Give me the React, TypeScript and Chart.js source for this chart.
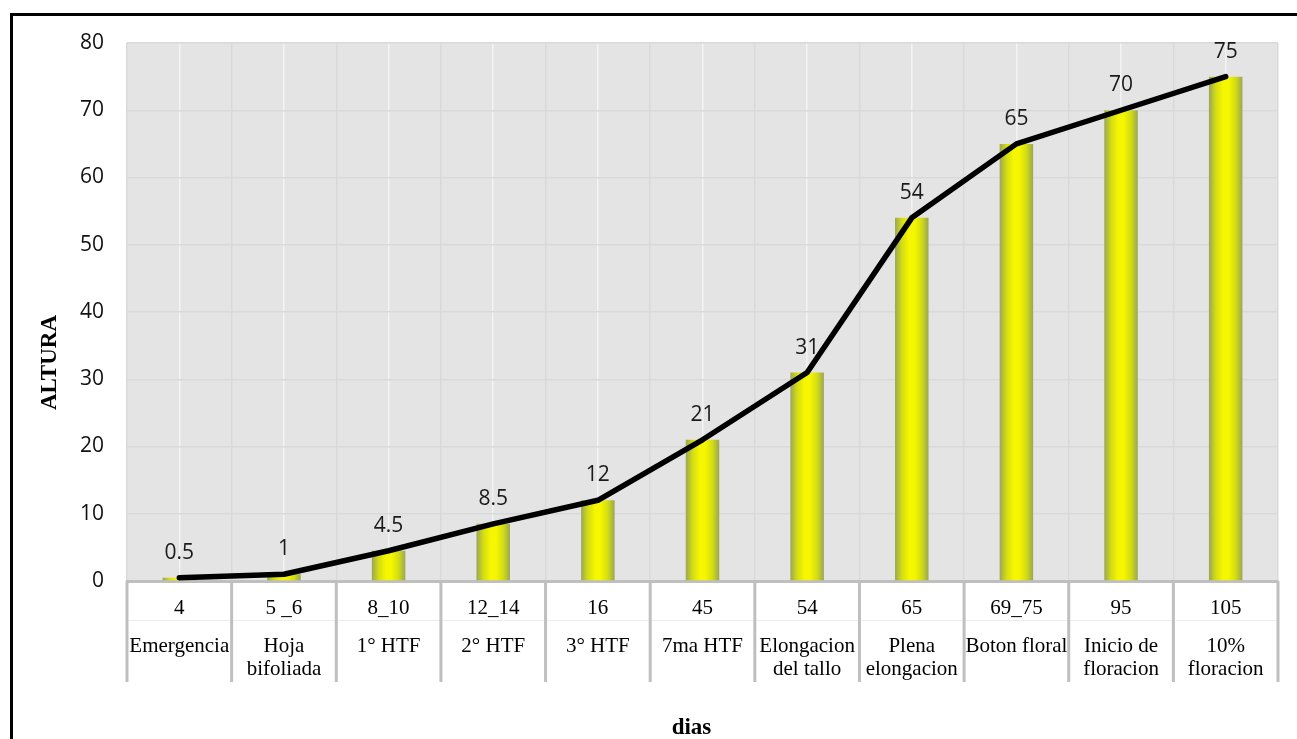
import React, { useEffect, useRef } from 'react';
import { Chart, registerables } from 'chart.js';

Chart.register(...registerables);

// ---- data ----
const dayLabels: string[] = ['4', '5 _6', '8_10', '12_14', '16', '45', '54', '65', '69_75', '95', '105'];
const stageLabels: string[][] = [
  ['Emergencia'],
  ['Hoja', 'bifoliada'],
  ['1° HTF'],
  ['2° HTF'],
  ['3° HTF'],
  ['7ma HTF'],
  ['Elongacion', 'del tallo'],
  ['Plena', 'elongacion'],
  ['Boton floral'],
  ['Inicio de', 'floracion'],
  ['10%', 'floracion'],
];
const alturaValues: number[] = [0.5, 1, 4.5, 8.5, 12, 21, 31, 54, 65, 70, 75];
const yMin = 0;
const yMax = 80;
const yStep = 10;
const yTitle = 'ALTURA';
const xTitle = 'dias';

const W = 1297;
const H = 739;
const BAR_PCT = 0.32;
const SERIF = '"Liberation Serif", "Times New Roman", serif';
const SANS = '"Open Sans", "Noto Sans", sans-serif';
const TABLE_BOTTOM = 682;

const decorPlugin = {
  id: 'decor',
  beforeDraw(chart: any) {
    const { ctx, chartArea: a } = chart;
    ctx.save();
    ctx.fillStyle = '#e4e4e4';
    ctx.fillRect(a.left, a.top, a.right - a.left, a.bottom - a.top);
    ctx.restore();
  },
  afterDatasetsDraw(chart: any) {
    const { ctx } = chart;
    const meta = chart.getDatasetMeta(0);
    const ds = chart.data.datasets[0];
    ctx.save();
    ctx.font = `21px ${SANS}`;
    ctx.fillStyle = '#1a1a1a';
    ctx.textAlign = 'center';
    ctx.textBaseline = 'middle';
    meta.data.forEach((pt: any, i: number) => {
      ctx.fillText(String(ds.data[i]), pt.x, pt.y - 25);
    });
    ctx.restore();
  },
  afterDraw(chart: any) {
    const { ctx, chartArea: a } = chart;
    const xs = chart.scales.x;
    const n = dayLabels.length;
    const step = xs.width / n;
    ctx.save();
    // faint row divider
    ctx.strokeStyle = '#ececec';
    ctx.lineWidth = 1;
    ctx.beginPath();
    ctx.moveTo(xs.left, Math.round(xs.bottom) + 0.5);
    ctx.lineTo(xs.right, Math.round(xs.bottom) + 0.5);
    ctx.stroke();
    // table separators
    ctx.strokeStyle = '#bfbfbf';
    ctx.lineWidth = 3;
    for (let i = 0; i <= n; i++) {
      const px = xs.getPixelForValue(0) - step / 2 + i * step;
      ctx.beginPath();
      ctx.moveTo(px, xs.top);
      ctx.lineTo(px, TABLE_BOTTOM);
      ctx.stroke();
    }
    // axis titles
    ctx.fillStyle = '#000';
    ctx.font = `bold 23px ${SERIF}`;
    ctx.textAlign = 'center';
    ctx.textBaseline = 'middle';
    ctx.fillText(xTitle, (a.left + a.right) / 2 - 11, 728);
    ctx.translate(50, (a.top + TABLE_BOTTOM) / 2);
    ctx.rotate(-Math.PI / 2);
    ctx.fillText(yTitle, 0, 0);
    ctx.restore();
  },
};

function barGradient(ctx: any) {
  const chart = ctx.chart;
  const xs = chart.scales && chart.scales.x;
  if (!xs || !chart.chartArea || ctx.dataIndex === undefined) return '#f0f000';
  const cx = xs.getPixelForValue(ctx.dataIndex);
  const w = (xs.width / dayLabels.length) * BAR_PCT;
  const g = chart.ctx.createLinearGradient(cx - w / 2, 0, cx + w / 2, 0);
  g.addColorStop(0, '#9aa656');
  g.addColorStop(0.2, '#d2dc14');
  g.addColorStop(0.42, '#f6f600');
  g.addColorStop(0.58, '#f6f600');
  g.addColorStop(0.8, '#d2dc14');
  g.addColorStop(1, '#9aa656');
  return g;
}

export default function App() {
  const canvasRef = useRef<HTMLCanvasElement | null>(null);

  useEffect(() => {
    const canvas = canvasRef.current;
    if (!canvas) return;
    const chart = new Chart(canvas, {
      type: 'bar',
      data: {
        labels: dayLabels,
        datasets: [
          {
            type: 'line',
            data: alturaValues,
            borderColor: '#000',
            borderWidth: 5.5,
            tension: 0,
            pointRadius: 0,
            borderCapStyle: 'round',
            borderJoinStyle: 'round',
            xAxisID: 'x',
            yAxisID: 'y',
            order: 0,
          } as any,
          {
            type: 'bar',
            data: alturaValues,
            backgroundColor: barGradient,
            borderWidth: 0,
            barPercentage: BAR_PCT,
            categoryPercentage: 1,
            xAxisID: 'x',
            yAxisID: 'y',
            order: 1,
          } as any,
        ],
      },
      options: {
        responsive: false,
        animation: false,
        devicePixelRatio: 1,
        layout: { padding: { top: 43, right: 19, bottom: 0, left: 0 } },
        plugins: { legend: { display: false }, tooltip: { enabled: false }, title: { display: false } },
        scales: {
          x: {
            type: 'category',
            position: 'bottom',
            weight: 0,
            offset: true,
            grid: { offset: true, color: '#d9d9d9', lineWidth: 1.5, drawTicks: false, drawOnChartArea: true },
            border: { display: true, color: '#bfbfbf', width: 3 },
            ticks: {
              font: { family: SERIF, size: 21, lineHeight: 1.1 },
              color: '#000',
              padding: 15.5,
              maxRotation: 0,
              autoSkip: false,
            },
            afterFit: (s: any) => {
              s.height = 39;
            },
          },
          x2: {
            type: 'category',
            position: 'bottom',
            weight: 1,
            labels: stageLabels as any,
            offset: true,
            grid: { offset: false, color: '#f3f3f3', lineWidth: 1.5, drawTicks: false, drawOnChartArea: true },
            border: { display: false },
            ticks: {
              font: { family: SERIF, size: 21, lineHeight: 1.1 },
              color: '#000',
              padding: 14.5,
              maxRotation: 0,
              autoSkip: false,
            },
            afterFit: (s: any) => {
              s.height = H - 620;
            },
          },
          y: {
            type: 'linear',
            position: 'left',
            min: yMin,
            max: yMax,
            grid: { color: '#d9d9d9', lineWidth: 1.5, drawTicks: false },
            border: { display: false },
            ticks: {
              stepSize: yStep,
              font: { family: SANS, size: 21 },
              color: '#111',
              padding: 23,
            },
            afterFit: (s: any) => {
              s.width = 127;
            },
          },
        } as any,
      },
      plugins: [decorPlugin],
    });
    return () => chart.destroy();
  }, []);

  return (
    <div
      style={{
        position: 'fixed',
        left: 0,
        top: 0,
        width: W,
        height: H,
        overflow: 'hidden',
        background: '#fff',
      }}
    >
      <canvas ref={canvasRef} width={W} height={H} style={{ display: 'block', width: W, height: H }} />
      <div
        style={{
          position: 'absolute',
          left: 10,
          top: 13,
          width: W + 200,
          height: H + 200,
          border: '3px solid #000',
          pointerEvents: 'none',
        }}
      />
    </div>
  );
}
